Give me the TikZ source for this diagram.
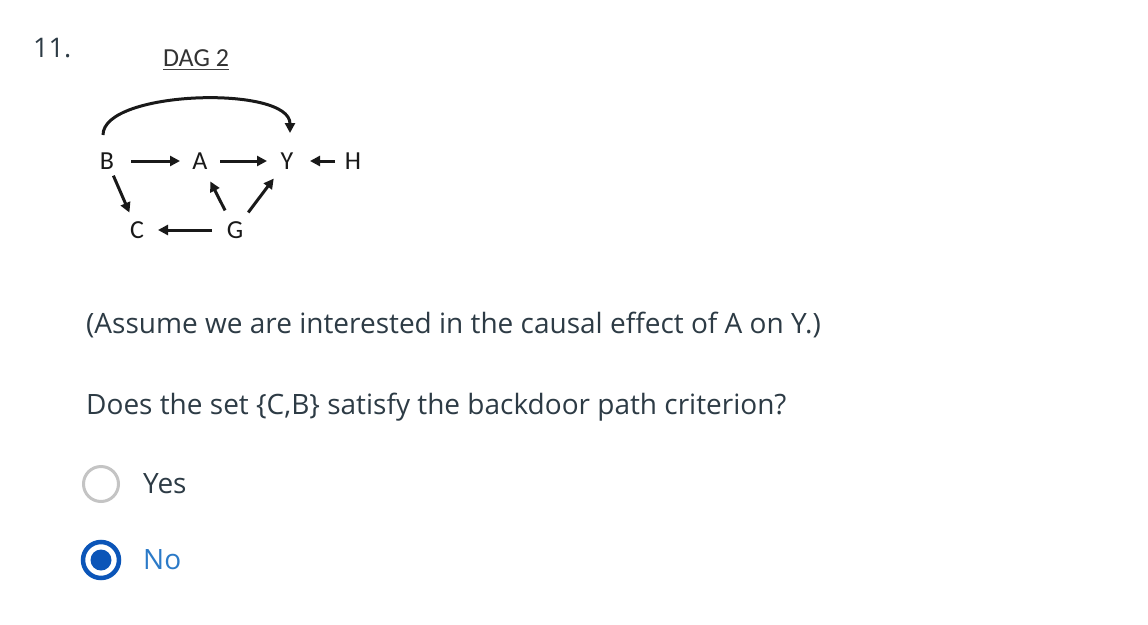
\documentclass[tikz,border=0pt]{standalone}
\usepackage{fontspec}
\setmainfont{Open Sans}
\newfontfamily\dagfont{Carlito}
\usetikzlibrary{arrows.meta,calc}
\definecolor{txt}{HTML}{2D3B45}
\definecolor{ring}{HTML}{0B55B8}
\definecolor{notxt}{HTML}{2B7AC8}
\definecolor{grayring}{HTML}{C4C4C4}
\begin{document}
\begin{tikzpicture}[x=1pt,y=-1pt,
  var/.style={inner sep=0pt,font=\dagfont\fontsize{26}{30}\selectfont,text=black!90},
  edge/.style={line width=3pt,-{Triangle[length=10pt,width=10pt]},black!90},
  qtext/.style={anchor=west,inner sep=0pt,text=txt,font=\fontsize{28}{34}\selectfont}]
\useasboundingbox[fill=white] (0,0) rectangle (1148,624);
\node[anchor=west,inner sep=0pt,text=txt,font=\fontsize{27}{32}\selectfont] (num) at (33,48) {11.};
\node[inner sep=0pt,font=\dagfont\fontsize{26}{30}\selectfont,text=black!80] (title) at (196,58) {DAG 2};
\draw[line width=1.5pt,black!75] ($(title.south west)+(0,3)$) coordinate (ul1) -- ($(title.south east)+(0,3)$) coordinate (ul2);
\node[var] (B) at (107,161) {B};
\node[var] (A) at (200,161) {A};
\node[var] (Y) at (287,161) {Y};
\node[var] (H) at (353,161) {H};
\node[var] (C) at (137,230) {C};
\node[var] (G) at (235,230) {G};
\draw[edge,shorten <=24pt,shorten >=20pt] (B.center) -- (A.center);
\draw[edge,shorten <=20pt,shorten >=20pt] (A.center) -- (Y.center);
\draw[edge,shorten <=18pt,shorten >=23pt] (H.center) -- (Y.center);
\draw[edge,shorten <=16pt,shorten >=19pt] (B.center) -- (C.center);
\draw[edge,shorten <=22pt,shorten >=23pt] (G.center) -- (A.center);
\draw[edge,shorten <=22pt,shorten >=22pt] (G.center) -- (Y.center);
\draw[edge,shorten <=23pt,shorten >=21pt] (G.center) -- (C.center);
\draw[edge] ($(B)+(-4,-26)$) .. controls ($(B)+(-4,-71)$) and ($(Y)+(3,-76)$) .. ($(Y)+(3,-28)$);
\node[qtext] (q1) at (86,325) {(Assume we are interested in the causal effect of A on Y.)};
\node[qtext] (q2) at (86,407) {Does the set \{C,B\} satisfy the backdoor path criterion?};
\node[draw=grayring,line width=3pt,circle,minimum size=35pt,inner sep=0pt] (r1) at (101,484) {};
\node[qtext] (yes) at (143,484) {Yes};
\node[draw=ring,line width=4.5pt,circle,minimum size=36pt,inner sep=0pt] (r2) at (101,560) {};
\fill[ring] (r2.center) circle (10.5pt);
\node[qtext,text=notxt] (no) at (143,560) {No};
\end{tikzpicture}
\end{document}
